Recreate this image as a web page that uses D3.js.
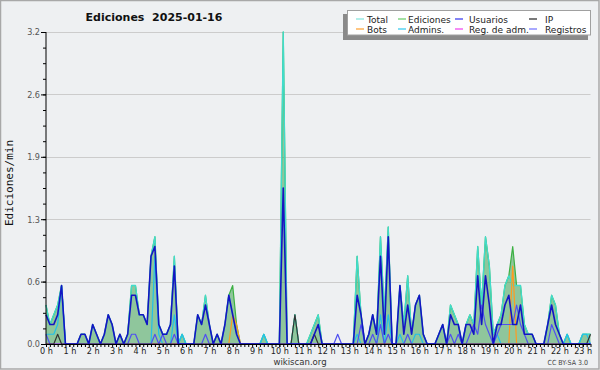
<!DOCTYPE html>
<html><head><meta charset="utf-8">
<script src="https://cdn.jsdelivr.net/npm/d3@7"></script>
<style>html,body{margin:0;padding:0;background:#fff}svg{display:block}</style>
</head><body>
<svg id="c" width="600" height="370"></svg>
<script>
// ---- data (10-minute bins starting 00:00) ----
const title = "Ediciones  2025-01-16";
const yTitle = "Ediciones/min";
const yTickValues = [0, 0.64, 1.28, 1.92, 2.56, 3.2];
const yTickLabels = ["0.0", "0.6", "1.3", "1.9", "2.6", "3.2"];
const hourLabels = ["0 h","1 h","2 h","3 h","4 h","5 h","6 h","7 h","8 h","9 h","10 h","11 h","12 h","13 h","14 h","15 h","16 h","17 h","18 h","19 h","20 h","21 h","22 h","23 h"];
const binMinutes = 10;

const total = [
 0.4,0.2,0.3,0.4,0.6,0,0,0,0,0.1,
 0.1,0,0.2,0.1,0,0.1,0.3,0.2,0,0.1,
 0,0.1,0.6,0.6,0.3,0.3,0.2,0.9,1.1,0.2,
 0.1,0.1,0.2,0.9,0,0.1,0,0,0,0.3,
 0.2,0.5,0.2,0,0.1,0,0.2,0.5,0.3,0.1,
 0,0,0,0,0,0,0.1,0,0,0,
 0,3.2,0,0,0.3,0,0,0,0.1,0.2,
 0.3,0,0,0,0,0,0,0,0,0,
 0.9,0.3,0,0.1,0.3,0.1,1.1,0.3,1.2,0,
 0,0.6,0.2,0.7,0.1,0.4,0.5,0.1,0,0,
 0,0.1,0.2,0,0.4,0.3,0.2,0,0.2,0.3,
 0.2,1.0,0.4,1.1,0.8,0.1,0.2,0.3,0.6,0.7,
 0.6,0.6,0.6,0.2,0.1,0.1,0,0,0,0.2,
 0.5,0.4,0.1,0,0.1,0,0,0,0.1,0.1,
 0.1];
const ediciones = [
 0.4,0.2,0.3,0.4,0.6,0,0,0,0,0.1,
 0.1,0,0.2,0.1,0,0.1,0.3,0.2,0,0.1,
 0,0.1,0.6,0.6,0.3,0.3,0.2,0.9,1.1,0.2,
 0.1,0.1,0.2,0.9,0,0.1,0,0,0,0.3,
 0.2,0.5,0.2,0,0.1,0,0.2,0.5,0.6,0.2,
 0,0,0,0,0,0,0.1,0,0,0,
 0,3.2,0,0,0.3,0,0,0,0.1,0.2,
 0.3,0,0,0,0,0,0,0,0,0,
 0.9,0.3,0,0.1,0.3,0.1,1.1,0.3,1.2,0,
 0,0.6,0.2,0.7,0.1,0.4,0.5,0.1,0,0,
 0,0.1,0.2,0,0.4,0.3,0.2,0,0.2,0.3,
 0.2,1.0,0.4,1.1,0.8,0.1,0.2,0.3,0.6,0.7,
 1.0,0.6,0.6,0.2,0.1,0.1,0,0,0,0.2,
 0.5,0.4,0.1,0,0.1,0,0,0,0.1,0.1,
 0.1];
const usuarios = [
 0.3,0.2,0.2,0.3,0.6,0,0,0,0,0.1,
 0.1,0,0.2,0.1,0,0.1,0.3,0.2,0,0.1,
 0,0.1,0.5,0.5,0.3,0.3,0.2,0.9,1.0,0.2,
 0.1,0.1,0.2,0.8,0,0,0,0,0,0.3,
 0.2,0.4,0.2,0,0.1,0,0.2,0.5,0.3,0.1,
 0,0,0,0,0,0,0,0,0,0,
 0,1.6,0,0,0,0,0,0,0,0.1,
 0.2,0,0,0,0,0,0,0,0,0,
 0.5,0.3,0,0.1,0.3,0.1,0.9,0.1,1.1,0,
 0,0.6,0.1,0.4,0.1,0.4,0.5,0.1,0,0,
 0,0.1,0.2,0,0.3,0.2,0.2,0,0.2,0.2,
 0.1,0.7,0.2,0.7,0.4,0,0.2,0.2,0.4,0.5,
 0.2,0.2,0.4,0.1,0.1,0.1,0,0,0,0.2,
 0.4,0.2,0.1,0,0,0,0,0,0,0,
 0];
const ip = [
 0,0,0,0.1,0,0,0,0,0,0,
 0,0,0,0,0,0,0,0,0,0,
 0,0,0,0,0,0,0,0,0,0,
 0,0,0,0,0,0,0,0,0,0,
 0,0,0,0,0,0,0,0,0,0,
 0,0,0,0,0,0,0,0,0,0,
 0,0,0,0,0.3,0,0,0,0,0.1,
 0,0,0,0,0,0,0,0,0,0,
 0,0,0,0,0,0,0,0,0,0,
 0,0,0,0,0,0,0,0,0,0,
 0,0,0,0,0,0,0,0,0,0,
 0,0,0,0,0,0,0,0,0,0,
 0,0,0,0,0,0,0,0,0,0,
 0,0,0,0,0,0,0,0,0,0,
 0.1];
const bots = [
 0,0,0,0,0,0,0,0,0,0,
 0,0,0,0,0,0,0,0,0,0,
 0,0,0,0,0,0,0,0,0,0,
 0,0,0,0,0,0,0,0,0,0,
 0,0,0,0,0,0,0,0,0.3,0.2,
 0,0,0,0,0,0,0,0,0,0,
 0,0,0,0,0,0,0,0,0,0,
 0,0,0,0,0,0,0,0,0,0,
 0,0,0,0,0,0,0,0,0,0,
 0,0,0,0,0,0,0,0,0,0,
 0,0,0,0,0,0,0,0,0,0,
 0,0,0,0,0,0,0,0,0,0,
 0.8,0,0,0,0,0,0,0,0,0,
 0,0,0,0,0,0,0,0,0,0,
 0];
const admins = [
 0.1,0.1,0.1,0.2,0.6,0,0,0,0,0,
 0,0,0,0,0,0,0,0,0,0,
 0,0,0,0,0,0,0,0,0.9,0.1,
 0,0,0,0.3,0,0.1,0,0,0,0,
 0,0,0,0,0,0,0,0,0,0,
 0,0,0,0,0,0,0.1,0,0,0,
 0,0,0,0,0,0,0,0,0,0,
 0,0,0,0,0,0,0,0,0,0,
 0.1,0,0,0,0,0,0.3,0,0.3,0,
 0,0.1,0,0,0,0.1,0.1,0,0,0,
 0,0,0,0,0,0,0,0,0,0,
 0,0,0,0,0,0,0.1,0,0,0,
 0,0,0,0,0,0,0,0,0,0,
 0,0,0,0,0.1,0,0,0,0.1,0.1,
 0];
const regAdm = [
 0,0,0,0,0,0,0,0,0,0, 0,0,0,0,0,0,0,0,0,0,
 0,0,0,0,0,0,0,0,0,0, 0,0,0,0,0,0,0,0,0,0,
 0,0,0,0,0,0,0,0,0,0, 0,0,0,0,0,0,0,0,0,0,
 0,0,0,0,0,0,0,0,0,0, 0,0,0,0,0,0,0,0,0,0,
 0,0,0,0,0,0,0,0,0,0, 0,0,0,0,0,0,0,0,0,0,
 0,0,0,0,0,0,0,0,0,0, 0,0,0,0,0,0,0,0,0,0,
 0,0,0,0,0,0,0,0,0,0, 0,0,0,0,0,0,0,0,0,0,
 0];
const registros = [
 0.1,0,0,0,0,0,0,0,0,0,
 0,0,0,0,0,0,0,0,0,0,
 0,0,0.1,0.1,0,0,0,0,0.1,0,
 0.1,0,0,0.1,0,0,0,0,0,0,
 0,0.1,0,0,0,0,0,0,0,0,
 0,0,0,0,0,0,0,0,0,0,
 0,0,0,0,0,0,0,0,0,0,
 0,0,0,0,0,0.1,0,0,0,0,
 0,0.2,0,0,0.1,0,0.2,0,0.1,0,
 0,0,0,0.1,0,0,0,0,0,0,
 0,0,0,0,0.1,0,0.1,0,0,0.1,
 0.2,0.1,0.4,0.2,0.1,0,0.1,0.2,0.2,0.2,
 0.2,0.4,0.2,0.1,0,0,0,0,0,0,
 0.2,0.1,0,0,0,0,0,0,0,0,
 0];

const legendItems = [
 {name:"Total", color:"#80e4dc"},
 {name:"Ediciones", color:"#66cc66"},
 {name:"Usuarios", color:"#3333ee"},
 {name:"IP", color:"#222222"},
 {name:"Bots", color:"#ffa030"},
 {name:"Admins.", color:"#30c8ee"},
 {name:"Reg. de adm.", color:"#ee40ee"},
 {name:"Registros", color:"#7070ff"}
];

// ---- drawing ----
const svg = d3.select("#c");
const W = 600, H = 370;
const L = 46, R = 590.5, T = 32, B = 344;
const x = d3.scaleLinear().domain([0, 1400]).range([L, R]);
const y = d3.scaleLinear().domain([0, 3.2]).range([B, T]);
const t = total.map((_, i) => i * binMinutes);
const fontS = "'DejaVu Sans Condensed','DejaVu Sans',sans-serif";

svg.append("rect").attr("x",0.5).attr("y",0.5).attr("width",W-1.5).attr("height",H-1.5)
  .attr("fill","#eef0f2").attr("stroke","#a8a8a8").attr("stroke-width",1.5);

// grid
svg.append("g").selectAll("line").data(yTickValues.slice(1)).join("line")
  .attr("x1",L).attr("x2",R).attr("y1",d=>Math.round(y(d))+0.5).attr("y2",d=>Math.round(y(d))+0.5)
  .attr("stroke","#cccccc").attr("stroke-width",1);

// area (Ediciones)
const area = d3.area().x((d,i)=>x(t[i])).y0(y(0)).y1(d=>y(d));
svg.append("path").datum(ediciones).attr("d",area).attr("fill","#2f9c46").attr("fill-opacity",0.5);

const line = d3.line().x((d,i)=>x(t[i])).y(d=>y(d));
function drawLine(data, color, w){
  svg.append("path").datum(data).attr("d",line).attr("fill","none")
    .attr("stroke",color).attr("stroke-width",w).attr("stroke-linejoin","round");
}
drawLine(ediciones, "#3cb043", 1.2);
drawLine(total, "#40dccc", 1.3);
drawLine(bots, "#ff9a20", 1.2);
drawLine(admins, "#22c0e8", 1.2);
drawLine(regAdm, "#ee40ee", 1.0);
drawLine(registros, "#5050f0", 1.2);
drawLine(ip, "#333333", 1.2);
drawLine(usuarios, "#1414c4", 1.6);

// axes
const yAxis = d3.axisLeft(y).tickValues(yTickValues).tickFormat((d,i)=>yTickLabels[i]).tickSize(5).tickPadding(1);
const gy = svg.append("g").attr("transform",`translate(${L},0)`).call(yAxis);
gy.select(".domain").attr("stroke","#000").attr("d",`M-0,${T}V${B}`);
gy.selectAll(".tick line").attr("stroke","#000");
gy.selectAll("text").attr("font-family",fontS).attr("font-size",9).attr("fill","#555");
const yMinor = d3.range(0, 21).map(k => k * 0.16);
const gy2 = svg.append("g").attr("transform",`translate(${L},0)`)
  .call(d3.axisLeft(y).tickValues(yMinor).tickFormat("").tickSize(3));
gy2.select(".domain").remove();
gy2.selectAll(".tick line").attr("stroke","#000");

const hourTicks = hourLabels.map((_, i) => i * 60);
const xMinor = t;
const gx2 = svg.append("g").attr("transform",`translate(0,${B})`)
  .call(d3.axisBottom(x).tickValues(xMinor).tickFormat("").tickSize(3));
gx2.select(".domain").remove();
gx2.selectAll(".tick line").attr("stroke","#000");
const gx = svg.append("g").attr("transform",`translate(0,${B})`)
  .call(d3.axisBottom(x).tickValues(hourTicks).tickFormat((d,i)=>hourLabels[i]).tickSize(3).tickPadding(1));
gx.select(".domain").attr("stroke","#000").attr("stroke-width",1.2).attr("d",`M${L},0.5H${R}`);
gx.selectAll(".tick line").attr("stroke","#000");
gx.selectAll("text").attr("font-family",fontS).attr("font-size",9).attr("fill","#222");

// titles
svg.append("text").attr("x",154).attr("y",21).attr("text-anchor","middle")
  .style("white-space","pre")
  .attr("font-family","'DejaVu Sans',sans-serif").attr("font-weight","bold").attr("font-size",11)
  .attr("fill","#111").text(title);
svg.append("text").attr("transform","translate(13,183) rotate(-90)").attr("text-anchor","middle")
  .attr("font-family","'DejaVu Sans Mono',monospace").attr("font-size",11).attr("fill","#111").text(yTitle);
svg.append("text").attr("x",300).attr("y",365).attr("text-anchor","middle")
  .attr("font-family",fontS).attr("font-size",9.5).attr("fill","#333").text("wikiscan.org");
svg.append("text").attr("x",588).attr("y",365).attr("text-anchor","end")
  .attr("font-family",fontS).attr("font-size",7).attr("fill","#444").text("CC BY-SA 3.0");

// legend
const lg = svg.append("g");
lg.append("rect").attr("x",343).attr("y",14).attr("width",245).attr("height",26).attr("fill","#8a8a8a");
lg.append("rect").attr("x",347.5).attr("y",10.5).attr("width",243).attr("height",24.5)
  .attr("fill","#ffffff").attr("stroke","#a0a0a0").attr("stroke-width",1);
const colLine = [356, 398, 455, 529];
const colText = [367, 408, 469, 545];
const rowY = [19, 29];
legendItems.forEach((d, i) => {
  const c = i % 4, r = Math.floor(i / 4);
  lg.append("line").attr("x1",colLine[c]).attr("x2",colLine[c]+8).attr("y1",rowY[r]).attr("y2",rowY[r])
    .attr("stroke",d.color).attr("stroke-width",1.2);
  lg.append("text").attr("x",colText[c]).attr("y",rowY[r]+3.5)
    .attr("font-family","'DejaVu Sans',sans-serif").attr("font-size",9).attr("fill","#222").text(d.name);
});
</script>
</body></html>
